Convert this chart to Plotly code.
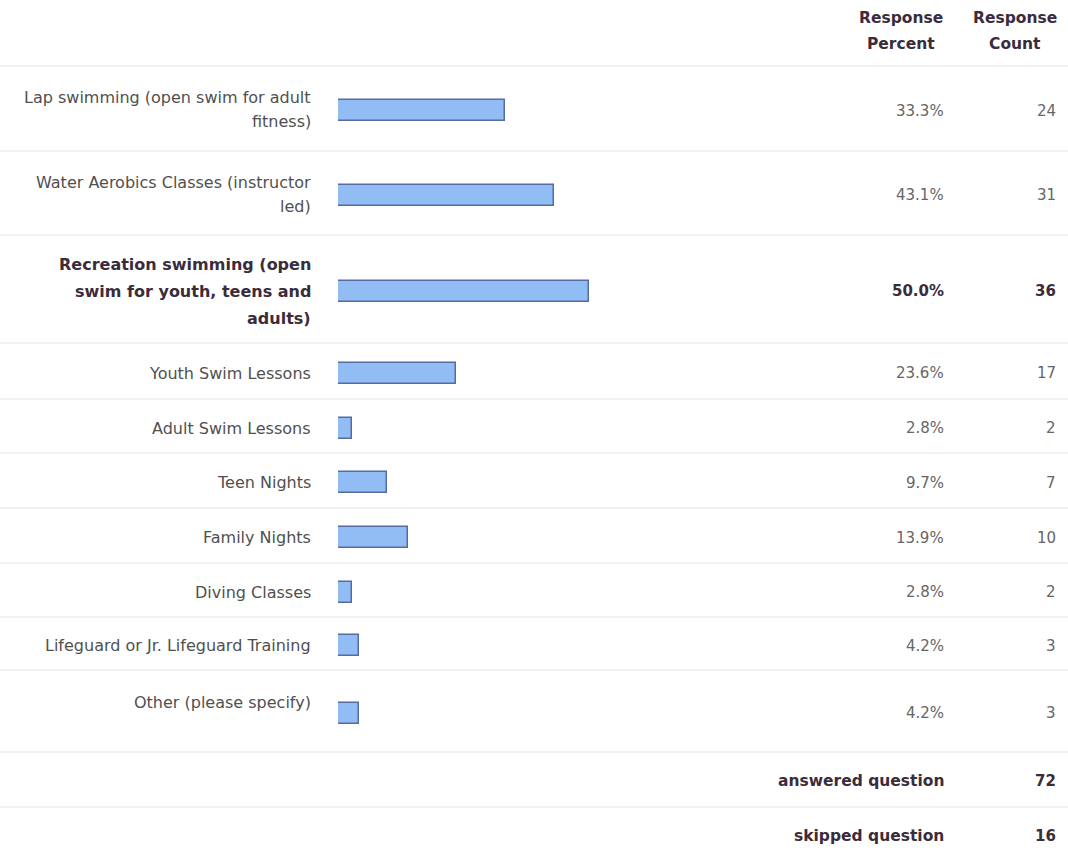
import plotly.graph_objects as go

# ---- data ----
categories = [
    "Lap swimming (open swim for adult<br>fitness)",
    "Water Aerobics Classes (instructor<br>led)",
    "Recreation swimming (open<br>swim for youth, teens and<br>adults)",
    "Youth Swim Lessons",
    "Adult Swim Lessons",
    "Teen Nights",
    "Family Nights",
    "Diving Classes",
    "Lifeguard or Jr. Lifeguard Training",
    "Other (please specify)",
]
percents = [33.3, 43.1, 50.0, 23.6, 2.8, 9.7, 13.9, 2.8, 4.2, 4.2]
counts = [24, 31, 36, 17, 2, 7, 10, 2, 3, 3]
highlight = [False, False, True, False, False, False, False, False, False, False]
footer_labels = ["answered question", "skipped question"]
footer_values = [72, 16]
header_percent = "Response<br>Percent"
header_count = "Response<br>Count"

# ---- layout (pixel geometry) ----
W, H = 1068, 855
header_h = 66
row_heights = [85, 84, 108, 56, 54, 55, 55, 54, 53, 82]
footer_h = 55
label_offset = [-1, -1, 0, 0, 0, 0, 0, 0, 0, -11]  # label shift vs row centre
bar_shift = 2
bar_px = 21
bar_x0, bar_x1 = 338, 840
label_right = 313
pct_right = 946
cnt_right = 1058
pct_hdr_c = 901
cnt_hdr_c = 1015

FONT = "DejaVu Sans"
LABEL_COL = "#505050"
BOLD_COL = "#3b2c3b"
NUM_COL = "#666666"
SEP_COL = "#ececec"

# row boundaries and centres
bounds = [header_h]
for h in row_heights:
    bounds.append(bounds[-1] + h)
centers = [(bounds[i] + bounds[i + 1]) / 2 for i in range(len(row_heights))]
foot_bounds = [bounds[-1], bounds[-1] + footer_h, bounds[-1] + 2 * footer_h]
foot_centers = [(foot_bounds[i] + foot_bounds[i + 1]) / 2 + 1 for i in range(2)]

fig = go.Figure()
fig.add_trace(go.Bar(
    x=percents,
    y=[c + bar_shift for c in centers],
    orientation="h",
    width=bar_px,
    marker=dict(color="#92bcf4", line=dict(color="#566aa3", width=1.5)),
    hoverinfo="skip",
))

shapes = []
for yb in [header_h] + bounds[1:] + foot_bounds[1:2]:
    shapes.append(dict(type="line", xref="paper", yref="y", x0=0, x1=1, y0=yb, y1=yb,
                       line=dict(color=SEP_COL, width=1.5), layer="below"))

ann = []
def add_text(text, xpx, ypx, anchor, size, color, bold=False):
    ann.append(dict(text=f"<b>{text}</b>" if bold else text, x=xpx / W, y=ypx, xref="paper", yref="y",
                    xanchor=anchor, yanchor="middle", showarrow=False,
                    font=dict(family=FONT, size=size, color=color)))

# headers
for hdr, cx in [(header_percent, pct_hdr_c), (header_count, cnt_hdr_c)]:
    lines = hdr.split("<br>")
    for j, ln in enumerate(lines):
        add_text(ln, cx, 18 + j * 26, "center", 15.5, BOLD_COL, True)

for i, cat in enumerate(categories):
    lines = cat.split("<br>")
    bold = highlight[i]
    spacing = 27 if bold else 24
    col = BOLD_COL if bold else LABEL_COL
    yc = centers[i] + bar_shift + label_offset[i]
    n = len(lines)
    for j, ln in enumerate(lines):
        add_text(ln, label_right, yc + (j - (n - 1) / 2) * spacing, "right", 16, col, bold)
    add_text(f"{percents[i]:.1f}%", pct_right, centers[i] + bar_shift, "right", 15,
             BOLD_COL if bold else NUM_COL, bold)
    add_text(str(counts[i]), cnt_right, centers[i] + bar_shift, "right", 15,
             BOLD_COL if bold else NUM_COL, bold)

for k in range(2):
    add_text(footer_labels[k], pct_right, foot_centers[k], "right", 15.5, BOLD_COL, True)
    add_text(str(footer_values[k]), cnt_right, foot_centers[k], "right", 15, BOLD_COL, True)

fig.update_layout(
    width=W, height=H,
    margin=dict(l=0, r=0, t=0, b=0),
    paper_bgcolor="white", plot_bgcolor="white",
    showlegend=False,
    xaxis=dict(domain=[bar_x0 / W, bar_x1 / W], range=[0, 100], visible=False, fixedrange=True),
    yaxis=dict(domain=[0, 1], range=[H, 0], visible=False, fixedrange=True),
    shapes=shapes,
    annotations=ann,
    bargap=0,
)

fig.write_html(
    "out.html",
    config={"displayModeBar": False},
    post_script="document.body.style.margin='0';document.body.style.padding='0';document.body.style.overflow='hidden';",
)
